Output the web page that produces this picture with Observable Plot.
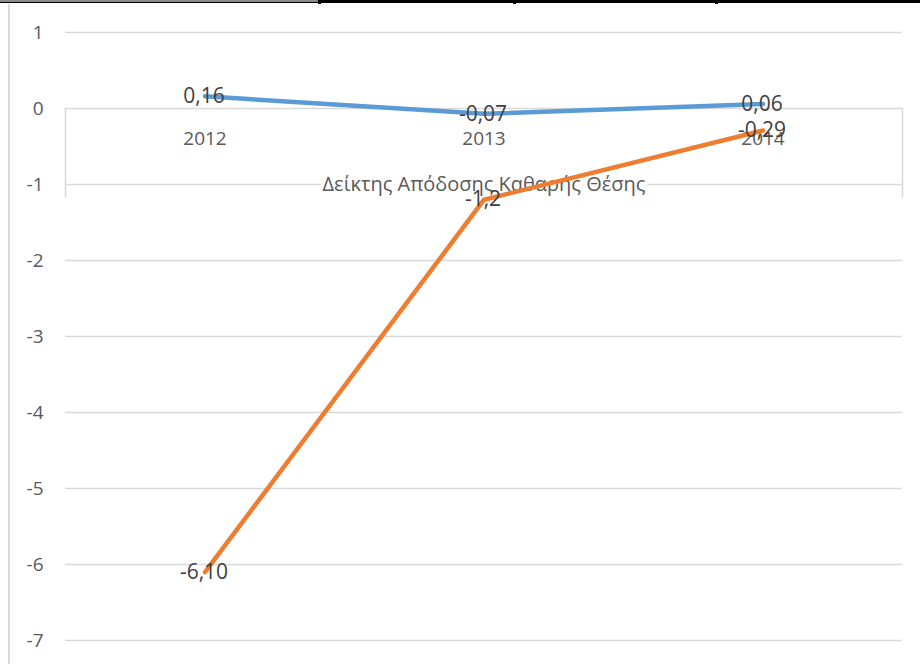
<!DOCTYPE html>
<html>
<head>
<meta charset="utf-8">
<script src="https://cdn.jsdelivr.net/npm/d3@7"></script>
<script src="https://cdn.jsdelivr.net/npm/@observablehq/plot@0.6"></script>
<style>
  html, body { margin: 0; padding: 0; background: #fff; }
  #wrap { position: relative; width: 920px; height: 664px; overflow: hidden; }
  #topbar { position: absolute; left: 0; top: 0; width: 920px; height: 3px; background: #000; }
  #topgray { position: absolute; left: 0; top: 0; width: 318px; height: 2px; background: #8a8a8a; }
  .tick { position: absolute; top: 0; width: 3px; height: 4px; background: #000; }
  #leftline { position: absolute; left: 8px; top: 4px; width: 2px; height: 660px; background: #d9d9d9; }
  #chart { position: absolute; left: 0; top: 0; }
</style>
</head>
<body>
<div id="wrap">
  <div id="chart"></div>
  <div id="topbar"></div>
  <div id="topgray"></div>
  <div class="tick" style="left:318px"></div>
  <div class="tick" style="left:513px"></div>
  <div class="tick" style="left:715px"></div>
  <div id="leftline"></div>
</div>
<script>
const years = ["2012", "2013", "2014"];
const seriesA = [0.16, -0.07, 0.06];
const seriesB = [-6.10, -1.2, -0.29];
const labelsA = ["0,16", "-0,07", "0,06"];
const labelsB = ["-6,10", "-1,2", "-0,29"];
const yTicks = [1, 0, -1, -2, -3, -4, -5, -6, -7];
const axisTitle = "Δείκτης Απόδοσης Καθαρής Θέσης";
const boxDepth = -1.18;

const rowsA = years.map((y, i) => ({i, year: y, v: seriesA[i], label: labelsA[i]}));
const rowsB = years.map((y, i) => ({i, year: y, v: seriesB[i], label: labelsB[i]}));
const cats = years.map((y, i) => ({i, year: y}));

const font = "Open Sans, Calibri, sans-serif";

const chart = Plot.plot({
  width: 920,
  height: 664,
  marginLeft: 65,
  marginRight: 18,
  marginTop: 32,
  marginBottom: 24,
  style: {fontFamily: font, background: "transparent"},
  x: {domain: [-0.5, 2.5], axis: null},
  y: {domain: [-7, 1]},
  marks: [
    Plot.gridY(yTicks, {stroke: "#d9d9d9", strokeOpacity: 1, strokeWidth: 1.5}),
    Plot.axisY(yTicks, {tickSize: 0, tickPadding: 22, fontSize: 19, fill: "#595959", tickFormat: d => String(d).replace("−", "-"), label: null}),
    Plot.ruleX([-0.5, 2.5], {y1: 0, y2: boxDepth, stroke: "#d9d9d9", strokeWidth: 1.5}),
    Plot.text([axisTitle], {x: 1, y: -1, text: d => d, fontSize: 20, fill: "#595959", stroke: "white", strokeWidth: 8}),
    Plot.text(cats, {x: "i", y: 0, text: "year", dy: 30, fontSize: 19, fill: "#595959"}),
    Plot.line(rowsA, {x: "i", y: "v", stroke: "#5B9BD5", strokeWidth: 4.5, strokeLinecap: "round"}),
    Plot.line(rowsB, {x: "i", y: "v", stroke: "#ED7D31", strokeWidth: 4.5, strokeLinecap: "round"}),
    Plot.text(rowsA, {x: "i", y: "v", text: "label", fontSize: 21, fill: "#404040", dx: -1}),
    Plot.text(rowsB, {x: "i", y: "v", text: "label", fontSize: 21, fill: "#404040", dx: -1})
  ]
});
document.getElementById("chart").appendChild(chart);
</script>
</body>
</html>
